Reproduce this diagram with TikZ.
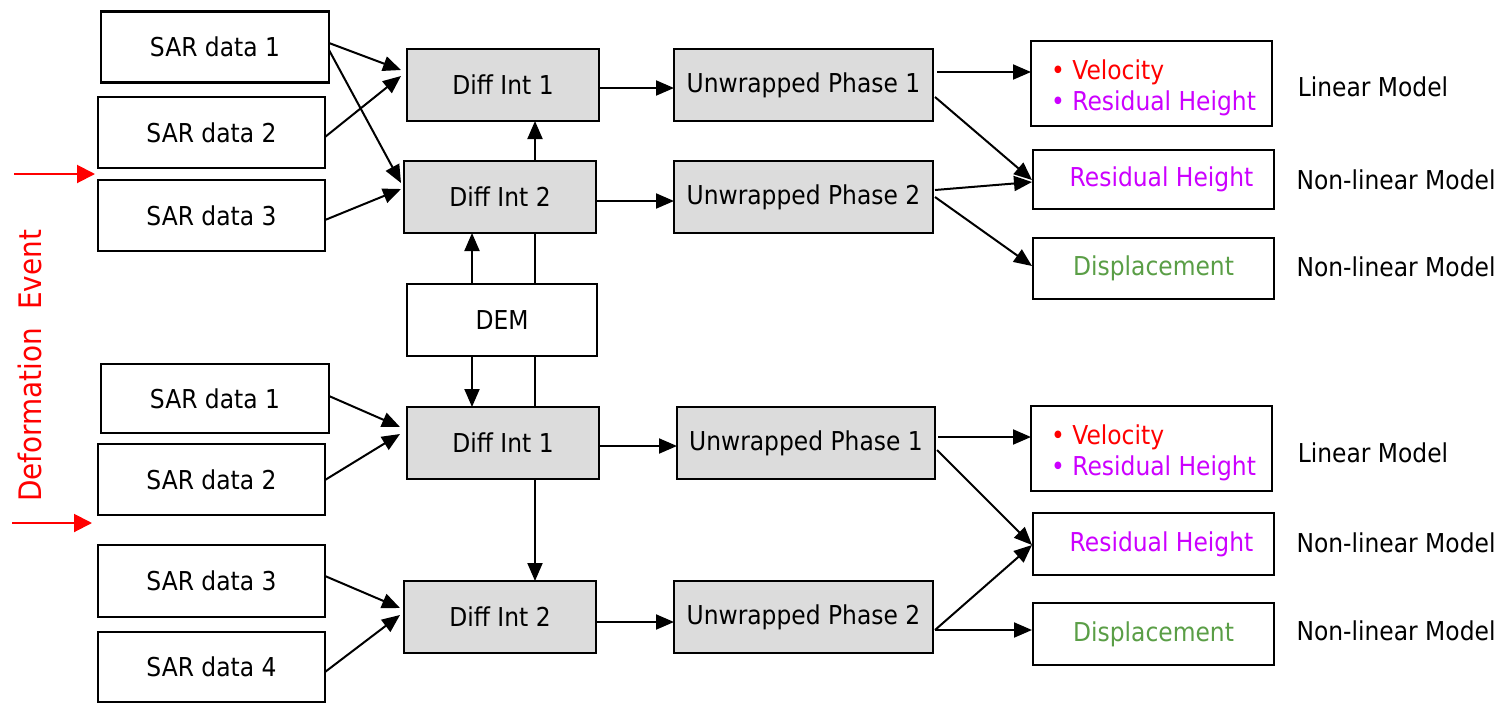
\documentclass[tikz,border=0pt]{standalone}
\usepackage{fontspec}
\setmainfont{DejaVu Sans}[FakeStretch=0.9]
\usetikzlibrary{arrows.meta,calc}
\definecolor{fillgray}{RGB}{220,220,220}
\definecolor{evred}{RGB}{255,0,0}
\definecolor{resmag}{RGB}{204,0,255}
\definecolor{dispgreen}{RGB}{90,158,70}
\begin{document}
\begin{tikzpicture}[x=0.5pt,y=-0.5pt,
  font=\fontsize{13}{15.5}\selectfont,
  box/.style 2 args={draw, line width=1.1pt, minimum width=#1*0.5pt, minimum height=#2*0.5pt, inner sep=0pt, outer sep=0pt, fill=white},
  gbox/.style 2 args={box={#1}{#2}, fill=fillgray},
  arr/.style={line width=1pt, -{Triangle[length=9pt,width=7.5pt]}},
  ln/.style={line width=1pt},
  redarr/.style={draw=evred, line width=1pt, -{Triangle[length=9pt,width=9pt]}},
  lbl/.style={inner sep=0pt},
]
\useasboundingbox (0,0) rectangle (1506,703);

% ---------- top group ----------
\node[box={228}{71}] (s1) at (215,47) {SAR data 1};
\node[box={227}{71}] (s2) at (211.5,132.5) {SAR data 2};
\node[box={227}{71}] (s3) at (211.5,215.5) {SAR data 3};
\node[gbox={192}{72}] (d1) at (503,85) {Diff Int 1};
\node[gbox={192}{72}] (d2) at (500,197) {Diff Int 2};
\node[box={190}{72}] (dem) at (502,320) {DEM};
\node[gbox={259}{72}] (u1) at (803.5,85) {Unwrapped Phase 1};
\node[gbox={259}{72}] (u2) at (803.5,197) {Unwrapped Phase 2};
\node[box={241}{85}] (r1) at (1151.5,83.5) {};
\node[lbl, align=left] (r1t) at ($(r1.center)+(2,4)$)
  {\textcolor{evred}{• Velocity}\\\textcolor{resmag}{• Residual Height}};
\node[box={241}{59}, text=resmag] (r2) at (1153.5,179.5) {\hspace*{8pt}Residual Height};
\node[box={241}{61}, text=dispgreen] (r3) at (1153.5,268.5) {Displacement};
\node[lbl] (lm1) at (1373,87) {Linear Model};
\node[lbl] (nl1) at (1396,180) {Non-linear Model};
\node[lbl] (nl2) at (1396,267) {Non-linear Model};

% ---------- bottom group ----------
\node[box={228}{69}] (bs1) at (215,398.5) {SAR data 1};
\node[box={227}{71}] (bs2) at (211.5,479.5) {SAR data 2};
\node[box={227}{72}] (bs3) at (211.5,581) {SAR data 3};
\node[box={227}{70}] (bs4) at (211.5,667) {SAR data 4};
\node[gbox={192}{72}] (bd1) at (503,443) {Diff Int 1};
\node[gbox={192}{72}] (bd2) at (500,617) {Diff Int 2};
\node[gbox={258}{72}] (bu1) at (806,443) {Unwrapped Phase 1};
\node[gbox={259}{72}] (bu2) at (803.5,617) {Unwrapped Phase 2};
\node[box={241}{85}] (br1) at (1151.5,448.5) {};
\node[lbl, align=left] (br1t) at ($(br1.center)+(2,4)$)
  {\textcolor{evred}{• Velocity}\\\textcolor{resmag}{• Residual Height}};
\node[box={241}{62}, text=resmag] (br2) at (1153.5,544) {\hspace*{8pt}Residual Height};
\node[box={241}{62}, text=dispgreen] (br3) at (1153.5,634) {Displacement};
\node[lbl] (lm2) at (1373,453) {Linear Model};
\node[lbl] (nl3) at (1396,543) {Non-linear Model};
\node[lbl] (nl4) at (1396,631) {Non-linear Model};

% ---------- deformation event ----------
\node[text=evred, rotate=90, font=\fontsize{15.5}{18}\selectfont, inner sep=0pt] (ev) at (30,366) {Deformation\ \ Event};
\coordinate (e1a) at (14,174);
\coordinate (e1b) at (95,174);
\coordinate (e2a) at (12,523);
\coordinate (e2b) at (92,523);
\draw[redarr] (e1a) -- (e1b);
\draw[redarr] (e2a) -- (e2b);

% ---------- helper x positions ----------
\coordinate (vx) at (535,0);
\coordinate (vy) at (472,0);

% ---------- top connectors ----------
\draw[arr] ($(s1.east)+(0,-4)$) -- ($(d1.west)+(-6,-15)$);
\draw[arr] ($(s1.east)+(0,3)$) -- ($(d2.west)+(-3,-14)$);
\draw[arr] ($(s2.east)+(0,4.5)$) -- ($(d1.west)+(-6,-9)$);
\draw[arr] ($(s3.east)+(0,4.5)$) -- ($(d2.west)+(-3,-8)$);
\draw[arr] ($(d1.east)+(0,3)$) -- ($(u1.west)+(0,3)$);
\draw[arr] ($(d2.east)+(0,4)$) -- ($(u2.west)+(0,4)$);
\draw[arr] (d2.north -| vx) -- (d1.south -| vx);
\draw[ln] (dem.north -| vx) -- (d2.south -| vx);
\draw[arr] (dem.north -| vy) -- (d2.south -| vy);
\draw[arr] (dem.south -| vy) -- (bd1.north -| vy);
\draw[ln] (bd1.north -| vx) -- (dem.south -| vx);
\draw[arr] ($(u1.east)+(4,-13)$) -- ($(r1.west)+(0,-11.5)$);
\draw[arr] ($(u1.east)+(2,12)$) -- ($(r2.west)+(-1,0.5)$);
\draw[arr] ($(u2.east)+(2,-7)$) -- ($(r2.west)+(-1,2.5)$);
\draw[arr] ($(u2.east)+(2,0)$) -- ($(r3.west)+(-1,-2.5)$);

% ---------- bottom connectors ----------
\draw[arr] ($(bs1.east)+(0,-2.5)$) -- ($(bd1.west)+(-7,-16)$);
\draw[arr] ($(bs2.east)+(0,0.5)$) -- ($(bd1.west)+(-7,-9)$);
\draw[arr] ($(bs3.east)+(0,-5)$) -- ($(bd2.west)+(-4,-9)$);
\draw[arr] ($(bs4.east)+(0,5)$) -- ($(bd2.west)+(-4,-2)$);
\draw[arr] (bd1.south -| vx) -- (bd2.north -| vx);
\draw[arr] ($(bd1.east)+(0,3)$) -- ($(bu1.west)+(0,3)$);
\draw[arr] ($(bd2.east)+(0,5)$) -- ($(bu2.west)+(0,5)$);
\draw[arr] ($(bu1.east)+(3,-6)$) -- ($(br1.west)+(0,-11.5)$);
\draw[arr] ($(bu1.east)+(2,7)$) -- ($(br2.west)+(-1,1)$);
\draw[arr] ($(bu2.east)+(2,13)$) -- ($(br2.west)+(-1,1)$);
\draw[arr] ($(bu2.east)+(2,13)$) -- ($(br3.west)+(-1,-4)$);
\end{tikzpicture}
\end{document}
